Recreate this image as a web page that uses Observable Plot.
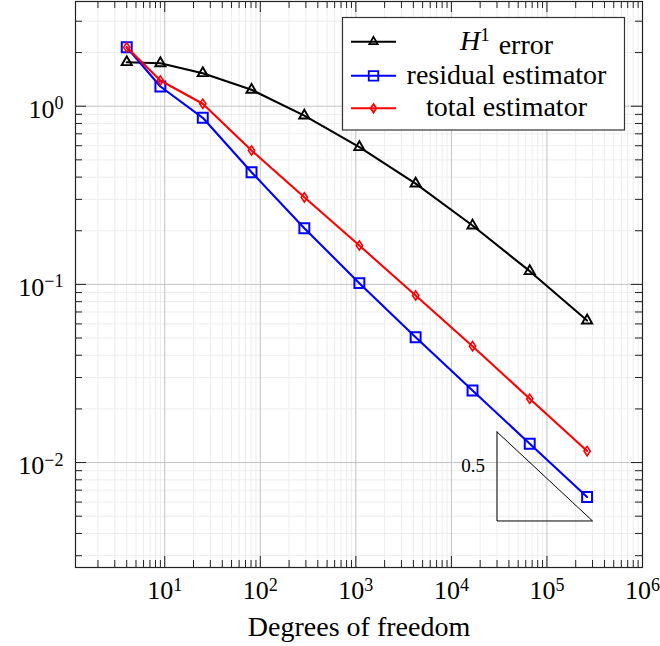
<!DOCTYPE html>
<html><head><meta charset="utf-8">
<script src="https://cdn.jsdelivr.net/npm/d3@7"></script>
<script src="https://cdn.jsdelivr.net/npm/@observablehq/plot@0.6"></script>
<style>
html,body{margin:0;padding:0;background:#fff;overflow:hidden;}
svg{display:block;}
</style>
</head><body><div id="chart"></div>
<script>
// ---- data ----
const dofs = [4, 9, 25, 81, 289, 1089, 4225, 16641, 66049, 263169];
const h1Error = [1.766, 1.743, 1.532, 1.236, 0.886, 0.589, 0.368, 0.214, 0.1186, 0.0627];
const residualEstimator = [2.143, 1.29, 0.861, 0.426, 0.2066, 0.1016, 0.0505, 0.0254, 0.01275, 0.0064];
const totalEstimator = [2.14, 1.394, 1.032, 0.564, 0.308, 0.1652, 0.0866, 0.045, 0.0228, 0.0116];
const seriesKeys = ["h1", "residual", "total"];
const seriesLabels = ["error", "residual estimator", "total estimator"];
const seriesColors = ["#000000", "#0000ff", "#ff0000"];

const slopeTriangleX = [3e4, 3e4, 3e5, 3e4];
const slopeTriangleY = [0.01486, 0.0047, 0.0047, 0.01486];
const slopeLabel = "0.5";

const xTickValues = [10, 100, 1000, 1e4, 1e5, 1e6];
const xTickExponents = ["1", "2", "3", "4", "5", "6"];
const yTickValues = [0.01, 0.1, 1];
const yTickExponents = ["\u22122", "\u22121", "0"];
const xLabel = "Degrees of freedom";
const xDomain = [1.164, 1e6];
const yDomain = [0.002576, 3.87];

// minor tick positions (2..9 times each power of ten inside the domain)
const minorOf = (lo, hi) => {
  const out = [];
  for (let e = -4; e <= 6; e++) for (let m = 2; m <= 9; m++) {
    const v = m * Math.pow(10, e);
    if (v > lo && v < hi) out.push(v);
  }
  return out;
};
const xMinor = minorOf(xDomain[0], xDomain[1]);
const yMinor = minorOf(yDomain[0], yDomain[1]);

// tidy table
const seriesValues = [h1Error, residualEstimator, totalEstimator];
const rows = [];
seriesKeys.forEach((k, s) => dofs.forEach((d, i) => rows.push({series: k, x: d, y: seriesValues[s][i]})));
const triangle = slopeTriangleX.map((x, i) => ({x, y: slopeTriangleY[i]}));

// pgfplots-like slim diamond marker
const slimDiamond = {
  draw(ctx, size) {
    const r = Math.sqrt(size / Math.PI);
    const h = 1.55 * r, w = 1.05 * r;
    ctx.moveTo(0, -h); ctx.lineTo(w, 0); ctx.lineTo(0, h); ctx.lineTo(-w, 0); ctx.closePath();
  }
};
const markerSymbols = [d3.symbolTriangle, d3.symbolSquare, slimDiamond];

// ---- layout ----
const W = 660, H = 646, mL = 75, mR = 18, mT = 1, mB = 79;
const innerW = W - mL - mR, innerH = H - mT - mB;
const FONT = "'Liberation Serif', 'Times New Roman', serif";
const minorLen = 7, majorLen = 11;
const tickColor = "#222";

const seriesMarks = seriesKeys.flatMap((k, s) => {
  const data = rows.filter(r => r.series === k);
  return [
    Plot.line(data, {x: "x", y: "y", stroke: seriesColors[s], strokeWidth: 2.1}),
    Plot.dot(data, {x: "x", y: "y", symbol: () => markerSymbols[s], r: [3.8, 5.6, 3.0][s],
      stroke: seriesColors[s], strokeWidth: [1.9, 2.0, 1.6][s], fill: "none"})
  ];
});

const chart = Plot.plot({
  width: W, height: H,
  marginLeft: mL, marginRight: mR, marginTop: mT, marginBottom: mB,
  style: {fontFamily: FONT, fontSize: "26px", background: "#fff", color: "#000"},
  x: {type: "log", domain: xDomain, label: null},
  y: {type: "log", domain: yDomain, label: null},
  symbol: {type: "identity"},
  marks: [
    // grid
    Plot.ruleX(xMinor, {stroke: "#ededed", strokeWidth: 1}),
    Plot.ruleY(yMinor, {stroke: "#ededed", strokeWidth: 1}),
    Plot.ruleX(xTickValues.filter(v => v < xDomain[1]), {stroke: "#c2c2c2", strokeWidth: 1}),
    Plot.ruleY(yTickValues, {stroke: "#c2c2c2", strokeWidth: 1}),
    // inward ticks, all four sides
    Plot.tickX(xMinor, {x: d => d, stroke: tickColor, insetTop: innerH - minorLen}),
    Plot.tickX(xMinor, {x: d => d, stroke: tickColor, insetBottom: innerH - minorLen}),
    Plot.tickX(xTickValues, {x: d => d, stroke: tickColor, insetTop: innerH - majorLen}),
    Plot.tickX(xTickValues, {x: d => d, stroke: tickColor, insetBottom: innerH - majorLen}),
    Plot.tickY(yMinor, {y: d => d, stroke: tickColor, insetRight: innerW - minorLen}),
    Plot.tickY(yMinor, {y: d => d, stroke: tickColor, insetLeft: innerW - minorLen}),
    Plot.tickY(yTickValues, {y: d => d, stroke: tickColor, insetRight: innerW - majorLen}),
    Plot.tickY(yTickValues, {y: d => d, stroke: tickColor, insetLeft: innerW - majorLen}),
    // axes labels
    Plot.axisX({ticks: xTickValues, tickSize: 0, tickPadding: 13, fontSize: 26, label: null,
      tickFormat: d => "10^" + xTickExponents[xTickValues.indexOf(d)]}),
    Plot.axisY({ticks: yTickValues, tickSize: 0, tickPadding: 12, fontSize: 26, label: null, dy: 3,
      tickFormat: d => "10^" + yTickExponents[yTickValues.indexOf(d)]}),
    Plot.text([xLabel], {frameAnchor: "bottom", text: d => d, dy: 59.5, fontSize: 28, lineAnchor: "middle"}),
    // slope triangle
    Plot.line(triangle, {x: "x", y: "y", stroke: "#000", strokeWidth: 1}),
    Plot.text([slopeLabel], {x: slopeTriangleX[0], y: Math.sqrt(slopeTriangleY[0] * slopeTriangleY[1]),
      text: d => d, textAnchor: "end", dx: -12, dy: -11, fontSize: 19}),
    // series
    ...seriesMarks,
    Plot.frame({stroke: "#222", strokeWidth: 1.2})
  ]
});

document.getElementById("chart").appendChild(chart);
const svg = d3.select(chart);

// superscript tick labels
svg.selectAll("text").each(function() {
  const m = /^10\^(.+)$/.exec(this.textContent);
  if (!m) return;
  const t = d3.select(this);
  t.text("");
  t.append("tspan").text("10");
  t.append("tspan").attr("dy", "-0.46em").attr("font-size", "18px").text(m[1]);
});

// legend (inset, top right)
const lg = svg.append("g").attr("font-family", FONT).attr("font-size", 28);
lg.append("rect").attr("x", 342.5).attr("y", 17.5).attr("width", 282).attr("height", 112.5)
  .attr("fill", "#fff").attr("stroke", "#333").attr("stroke-width", 1.2);
const rowY = [41.7, 75.8, 108.3];
const legSize = [30, 90, 24];
seriesKeys.forEach((k, i) => {
  const y = rowY[i];
  lg.append("line").attr("x1", 351).attr("x2", 396).attr("y1", y).attr("y2", y)
    .attr("stroke", seriesColors[i]).attr("stroke-width", 2.1);
  lg.append("path").attr("d", d3.symbol(markerSymbols[i], legSize[i])())
    .attr("transform", `translate(373.5,${y})`).attr("fill", "none")
    .attr("stroke", seriesColors[i]).attr("stroke-width", 1.8);
  const t = lg.append("text").attr("x", 506.5).attr("y", y + 7.8).attr("text-anchor", "middle").attr("fill", "#000");
  if (k === "h1") {
    t.append("tspan").attr("font-style", "italic").text("H");
    t.append("tspan").attr("dy", "-0.45em").attr("font-size", "19px").text("1");
    t.append("tspan").attr("dy", "0.45em").attr("dx", 2).text(" " + seriesLabels[i]);
  } else {
    t.text(seriesLabels[i]);
  }
});
</script>
</body></html>
